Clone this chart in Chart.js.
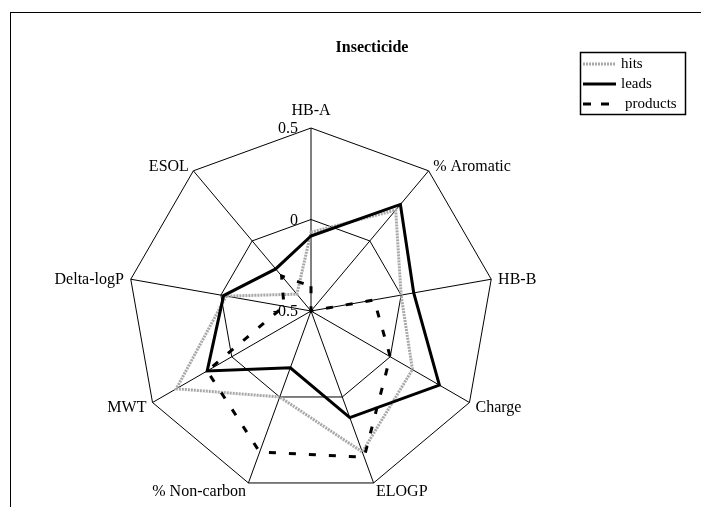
<!DOCTYPE html>
<html>
<head>
<meta charset="utf-8">
<script src="https://cdn.jsdelivr.net/npm/chart.js@4.4.1/dist/chart.umd.min.js"></script>
<style>
  body { margin: 0; background: #fff; }
  #wrap { width: 701px; height: 507px; }
</style>
</head>
<body>
<div id="wrap"><canvas id="radarChart" width="701" height="507"></canvas></div>
<script>
// data
const labels = ['HB-A', '% Aromatic', 'HB-B', 'Charge', 'ELOGP', '% Non-carbon', 'MWT', 'Delta-logP', 'ESOL'];
const hits = [-0.07, 0.22, 0.0, 0.14, 0.32, 0.0, 0.35, -0.03, -0.38];
const leads = [-0.09, 0.26, 0.07, 0.31, 0.12, -0.17, 0.155, -0.015, -0.2];
const products = [-0.365, -0.5, -0.15, 0.0, 0.35, 0.32, 0.155, -0.35, -0.25];
const tickValues = [-0.5, 0, 0.5];
const tickLabels = ['-0.5', '0', '0.5'];

const serif = '"Liberation Serif", "Times New Roman", serif';

const paperPlugin = {
  id: 'paper',
  beforeDraw(chart) {
    const c = chart.ctx;
    c.save();
    c.fillStyle = '#fff';
    c.fillRect(0, 0, chart.width, chart.height);
    c.strokeStyle = '#000';
    c.lineWidth = 1;
    c.strokeRect(10.5, 12.5, 760, 600);
    c.restore();
  },
  afterDraw(chart) {
    const c = chart.ctx;
    const r = chart.scales.r;
    c.save();
    c.fillStyle = '#000';

    // title
    c.font = 'bold 16px ' + serif;
    c.textAlign = 'center';
    c.textBaseline = 'alphabetic';
    c.fillText('Insecticide', 372, 52);

    // axis labels
    c.font = '16px ' + serif;
    labels.forEach((lab, i) => {
      const p = r.getPointPosition(i, r.drawingArea + 7);
      let y = p.y + 6;
      if (p.x > r.xCenter + 1) c.textAlign = 'left';
      else if (p.x < r.xCenter - 1) c.textAlign = 'right';
      else { c.textAlign = 'center'; y = p.y - 6; }
      c.fillText(lab, p.x, y);
    });

    // tick labels
    c.textAlign = 'right';
    c.textBaseline = 'middle';
    tickValues.forEach((v, i) => {
      const d = r.getDistanceFromCenterForValue(v);
      c.fillText(tickLabels[i], r.xCenter - 13, r.yCenter - d + 1);
    });

    // legend
    c.lineWidth = 1.5;
    c.strokeStyle = '#000';
    c.strokeRect(580.5, 52.5, 105, 62);
    c.font = '15px ' + serif;
    c.textAlign = 'left';
    chart.data.datasets.forEach((ds, i) => {
      const y = 64 + i * 20;
      c.beginPath();
      c.strokeStyle = ds.borderColor;
      c.lineWidth = ds.borderWidth;
      c.setLineDash(i === 2 ? [8, 10] : (ds.borderDash || []));
      c.moveTo(583, y);
      c.lineTo(616, y);
      c.stroke();
      c.setLineDash([]);
      c.fillText(ds.label, i === 2 ? 625 : 621, y);
    });
    c.restore();
  }
};

new Chart(document.getElementById('radarChart'), {
  type: 'radar',
  data: {
    labels: labels,
    datasets: [
      { label: 'hits', data: hits, borderColor: '#a8a8a8', borderWidth: 3, borderDash: [2, 1], order: 3 },
      { label: 'leads', data: leads, borderColor: '#000', borderWidth: 3, order: 2 },
      { label: 'products', data: products, borderColor: '#000', borderWidth: 3, borderDash: [7, 13], order: 1 }
    ]
  },
  options: {
    responsive: false,
    animation: false,
    layout: { padding: { left: 128, top: 128, right: 207, bottom: 13 } },
    elements: {
      line: { fill: false, tension: 0 },
      point: { radius: 0, hoverRadius: 0 }
    },
    plugins: {
      legend: { display: false },
      title: { display: false },
      tooltip: { enabled: false }
    },
    scales: {
      r: {
        min: -0.5,
        max: 0.5,
        ticks: { display: false, stepSize: 0.5 },
        pointLabels: { display: false },
        grid: { color: '#000', lineWidth: 1 },
        angleLines: { color: '#000', lineWidth: 1 }
      }
    }
  },
  plugins: [paperPlugin]
});
</script>
</body>
</html>
